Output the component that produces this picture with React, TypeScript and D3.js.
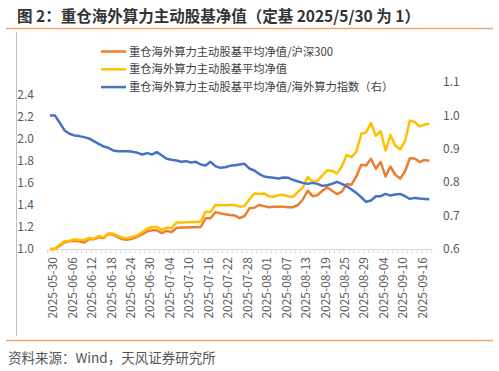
import React from 'react';
import * as d3 from 'd3';

// 交易日（2025）
const dates = [
  '05-30', '06-03', '06-04', '06-05', '06-06', '06-09', '06-10', '06-11', '06-12', '06-13',
  '06-16', '06-17', '06-18', '06-19', '06-20', '06-23', '06-24', '06-25', '06-26', '06-27',
  '06-30', '07-01', '07-02', '07-03', '07-04', '07-07', '07-08', '07-09', '07-10', '07-11',
  '07-14', '07-15', '07-16', '07-17', '07-18', '07-21', '07-22', '07-23', '07-24', '07-25',
  '07-28', '07-29', '07-30', '07-31', '08-01', '08-04', '08-05', '08-06', '08-07', '08-08',
  '08-11', '08-12', '08-13', '08-14', '08-15', '08-18', '08-19', '08-20', '08-21', '08-22',
  '08-25', '08-26', '08-27', '08-28', '08-29', '09-01', '09-02', '09-03', '09-04', '09-05',
  '09-08', '09-09', '09-10', '09-11', '09-12', '09-15', '09-16', '09-17', '09-18',
].map(d => '2025-' + d);

// 平均净值/沪深300
const vsHS300 = [
  1.0, 1.0, 1.03, 1.061, 1.07, 1.076, 1.07, 1.058, 1.088, 1.088,
  1.106, 1.1, 1.136, 1.13, 1.106, 1.088, 1.085, 1.094, 1.112, 1.135,
  1.16, 1.17, 1.17, 1.145, 1.165, 1.155, 1.19, 1.195, 1.195, 1.197,
  1.197, 1.2, 1.28, 1.28, 1.335, 1.325, 1.315, 1.31, 1.305, 1.28,
  1.3, 1.37, 1.375, 1.4, 1.39, 1.38, 1.385, 1.385, 1.385, 1.38,
  1.38, 1.4, 1.45, 1.53, 1.48, 1.49, 1.53, 1.56, 1.53, 1.5,
  1.52, 1.59, 1.585, 1.66, 1.765, 1.76, 1.82, 1.73, 1.79, 1.66,
  1.75, 1.675, 1.64, 1.705, 1.825, 1.822, 1.79, 1.81, 1.803,
];

// 平均净值
const navAvg = [
  1.0, 1.0, 1.04, 1.07, 1.076, 1.088, 1.082, 1.082, 1.1, 1.094,
  1.118, 1.106, 1.143, 1.139, 1.118, 1.103, 1.1, 1.112, 1.124, 1.155,
  1.185, 1.2, 1.2, 1.175, 1.195, 1.19, 1.24, 1.242, 1.243, 1.245,
  1.245, 1.25, 1.34, 1.335, 1.4, 1.398, 1.398, 1.4, 1.4, 1.385,
  1.39, 1.45, 1.505, 1.5, 1.505, 1.48, 1.475, 1.49, 1.49, 1.48,
  1.475, 1.52, 1.56, 1.655, 1.61, 1.62, 1.67, 1.715, 1.71, 1.685,
  1.75, 1.855, 1.835, 1.885, 2.045, 2.06, 2.145, 2.03, 2.07, 1.895,
  2.035, 1.94, 1.905, 1.98, 2.167, 2.155, 2.115, 2.13, 2.142,
];

// 平均净值/海外算力指数（右轴）
const vsIndex = [
  1.0, 1.0, 0.978, 0.955, 0.945, 0.94, 0.938, 0.935, 0.931, 0.923,
  0.915, 0.907, 0.903, 0.895, 0.893, 0.893, 0.893, 0.891, 0.888, 0.883,
  0.887, 0.883, 0.89, 0.88, 0.87, 0.867, 0.865, 0.861, 0.863, 0.859,
  0.861, 0.853, 0.85, 0.861, 0.848, 0.843, 0.845, 0.849, 0.851, 0.853,
  0.855, 0.841, 0.835, 0.825, 0.817, 0.815, 0.813, 0.811, 0.814, 0.813,
  0.807, 0.802, 0.798, 0.795, 0.798, 0.795, 0.789, 0.791, 0.795, 0.801,
  0.795, 0.788, 0.778, 0.768, 0.755, 0.741, 0.745, 0.758, 0.758, 0.765,
  0.76, 0.763, 0.765, 0.758, 0.75, 0.753, 0.751, 0.75, 0.749,
];

const leftTicks = [1.0, 1.2, 1.4, 1.6, 1.8, 2.0, 2.2, 2.4];
const rightTicks = [0.6, 0.7, 0.8, 0.9, 1.0, 1.1];

const seriesNames = [
  '重仓海外算力主动股基平均净值/沪深300',
  '重仓海外算力主动股基平均净值',
  '重仓海外算力主动股基平均净值/海外算力指数（右）',
];
const colors = ['#ED7D31', '#FFC000', '#4472C4'];

const font = '"Noto Sans CJK SC", "Noto Sans", sans-serif';

export default function App() {
  const n = dates.length;
  const x = d3.scaleLinear().domain([0, n - 1]).range([50, 429.3]);
  const step = (x(n - 1) - x(0)) / (n - 1);
  const yL = d3.scaleLinear().domain([1.0, 2.4]).range([249, 95]);
  const yR = d3.scaleLinear().domain([0.6, 1.1]).range([249, 82]);

  const lineL = d3.line<number>().x((_, i) => x(i)).y(d => yL(d));
  const lineR = d3.line<number>().x((_, i) => x(i)).y(d => yR(d));

  const boundaries = d3.range(n + 1).map(i => x(0) + (i - 0.5) * step);

  return (
    <svg width={499} height={371} style={{ position: 'absolute', left: 0, top: 0, background: '#fff' }}
      fontFamily={font}>
      <text x={17} y={22} fontSize={15.5} fontWeight="bold" fill="#333">
        图 2：重仓海外算力主动股基净值（定基 2025/5/30 为 1）
      </text>
      <line x1={6} x2={493} y1={28.5} y2={28.5} stroke="#F5A66A" strokeWidth={1.5} />
      <line x1={16.5} x2={16.5} y1={32} y2={336} stroke="#BFBFBF" strokeWidth={1} />

      {/* x axis */}
      <line x1={boundaries[0]} x2={boundaries[n]} y1={249.5} y2={249.5} stroke="#D9D9D9" strokeWidth={1} />
      {boundaries.map((b, i) => (
        <line key={i} x1={b} x2={b} y1={249.5} y2={253} stroke="#D9D9D9" strokeWidth={1} />
      ))}
      {dates.map((d, i) => i % 4 === 0 ? (
        <text key={d} transform={`translate(${x(i) + 3},257) rotate(-90)`} textAnchor="end" dy="0.35em"
          fontSize={12} fill="#595959">{d}</text>
      ) : null)}

      {/* left axis */}
      {leftTicks.map(t => (
        <text key={t} x={34} y={yL(t)} dy="0.35em" textAnchor="end" fontSize={12} fill="#595959">
          {t.toFixed(1)}
        </text>
      ))}
      {/* right axis */}
      {rightTicks.map(t => (
        <text key={t} x={443} y={yR(t)} dy="0.35em" textAnchor="start" fontSize={12} fill="#595959">
          {t.toFixed(1)}
        </text>
      ))}

      {/* lines */}
      <path d={lineL(vsHS300) || ''} fill="none" stroke={colors[0]} strokeWidth={2.5} strokeLinejoin="round" />
      <path d={lineL(navAvg) || ''} fill="none" stroke={colors[1]} strokeWidth={2.5} strokeLinejoin="round" />
      <path d={lineR(vsIndex) || ''} fill="none" stroke={colors[2]} strokeWidth={2.5} strokeLinejoin="round" />

      {/* legend */}
      {seriesNames.map((s, i) => (
        <g key={s} transform={`translate(101,${51.5 + i * 17.8})`}>
          <line x1={0} x2={25} y1={0} y2={0} stroke={colors[i]} strokeWidth={2.5} />
          <text x={28} y={0} dy="0.36em" fontSize={11.3} fill="#404040">{s}</text>
        </g>
      ))}

      <line x1={6} x2={493} y1={340.5} y2={340.5} stroke="#F5A66A" strokeWidth={1.5} />
      <text x={8} y={363} fontSize={13.5} fill="#555">资料来源：Wind，天风证券研究所</text>
    </svg>
  );
}
